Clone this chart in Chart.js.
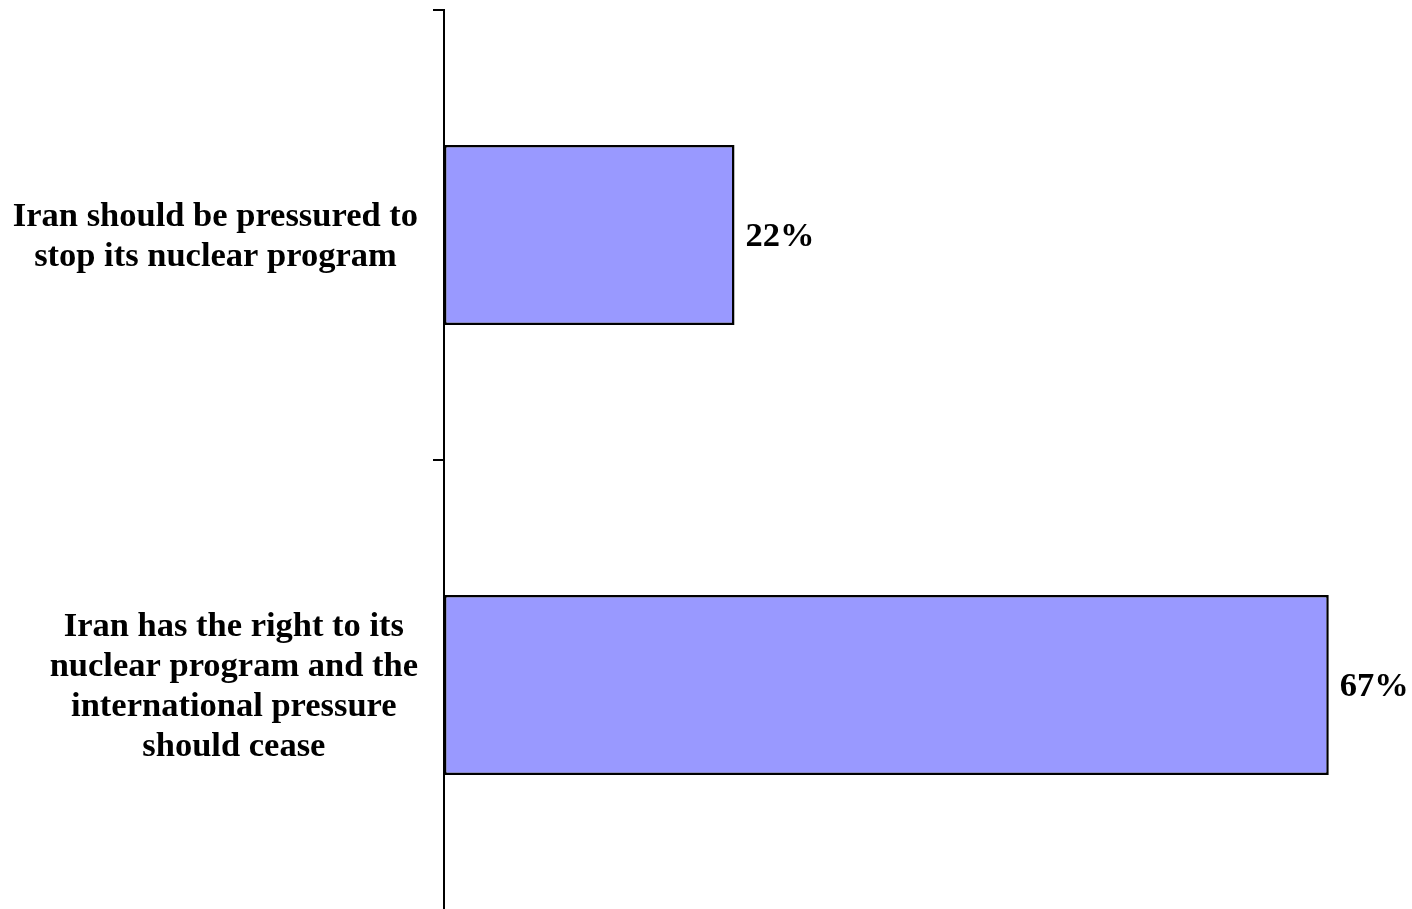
<!DOCTYPE html>
<html>
<head>
<meta charset="utf-8">
<script src="https://cdn.jsdelivr.net/npm/chart.js@4/dist/chart.umd.min.js"></script>
<style>
    html, body { margin: 0; padding: 0; background: #fff; overflow: hidden; }
    #wrap { width: 1412px; height: 920px; position: relative; }
</style>
</head>
<body>
<div id="wrap"><canvas id="grafico"></canvas></div>
<script>
const categorias = [
    ['Iran should be pressured to', 'stop its nuclear program'],
    ['Iran has the right to its', 'nuclear program and the', 'international pressure', 'should cease']
];
const valores = [22, 67];
const rotulos = ['22%', '67%'];

const fonteTexto = 'bold 34.5px "Liberation Serif", serif';

const rotulosCategoria = {
    id: 'rotulosCategoria',
    afterDraw(chart) {
        const ctx = chart.ctx;
        const escala = chart.scales.y;
        ctx.save();
        ctx.font = fonteTexto;
        ctx.fillStyle = '#000';
        ctx.textAlign = 'center';
        ctx.textBaseline = 'middle';
        categorias.forEach((linhas, i) => {
            let maior = 0;
            linhas.forEach(l => { maior = Math.max(maior, ctx.measureText(l).width); });
            const centroX = escala.right - 26 - maior / 2;
            const centroY = escala.getPixelForValue(i) + 2;
            linhas.forEach((l, j) => {
                ctx.fillText(l, centroX, centroY + (j - (linhas.length - 1) / 2) * 40);
            });
        });
        ctx.restore();
    }
};

const rotulosValor = {
    id: 'rotulosValor',
    afterDatasetsDraw(chart) {
        const ctx = chart.ctx;
        const meta = chart.getDatasetMeta(0);
        ctx.save();
        ctx.font = fonteTexto;
        ctx.fillStyle = '#000';
        ctx.textAlign = 'left';
        ctx.textBaseline = 'middle';
        meta.data.forEach((barra, i) => {
            ctx.fillText(rotulos[i], barra.x + 11, barra.y + 2);
        });
        ctx.restore();
    }
};

const grafico = new Chart(document.getElementById('grafico'), {
    type: 'bar',
    data: {
        labels: categorias.map(c => c.join(' ')),
        datasets: [{
            data: valores,
            backgroundColor: '#9999FF',
            borderColor: '#000000',
            borderWidth: 2.5,
            borderSkipped: false,
            categoryPercentage: 1,
            barPercentage: 0.4
        }]
    },
    options: {
        indexAxis: 'y',
        responsive: true,
        maintainAspectRatio: false,
        animation: false,
        layout: { padding: { top: 10, bottom: 10, right: 4, left: 0 } },
        plugins: {
            legend: { display: false },
            tooltip: { enabled: false }
        },
        scales: {
            x: {
                display: false,
                min: 0,
                max: 73
            },
            y: {
                afterFit(escala) { escala.width = 444; },
                ticks: { display: false },
                grid: {
                    offset: true,
                    drawOnChartArea: false,
                    drawTicks: true,
                    tickLength: 11,
                    color: '#000',
                    lineWidth: 2
                },
                border: { display: true, color: '#000', width: 2 }
            }
        }
    },
    plugins: [rotulosCategoria, rotulosValor]
});
</script>
</body>
</html>
